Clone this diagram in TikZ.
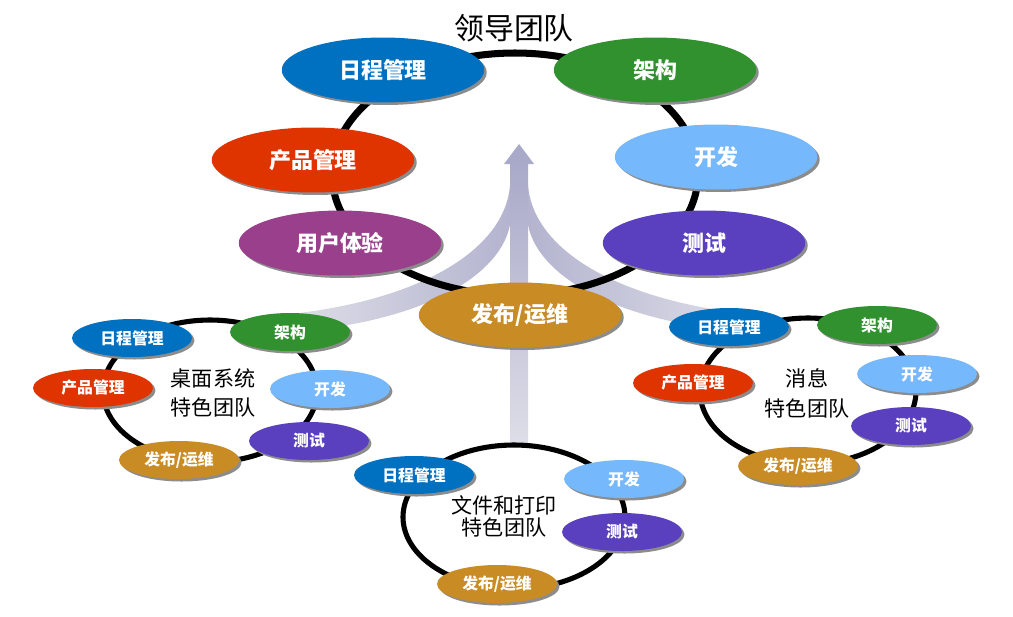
\documentclass[tikz,border=0pt]{standalone}
\usepackage{fontspec}
\setmainfont{Noto Sans CJK SC}
\usetikzlibrary{shapes.geometric,shadows}

\definecolor{cRicheng}{HTML}{0070C0}
\definecolor{cJiagou}{HTML}{31912F}
\definecolor{cChanpin}{HTML}{DF3400}
\definecolor{cKaifa}{HTML}{76B8FC}
\definecolor{cYonghu}{HTML}{993F8C}
\definecolor{cCeshi}{HTML}{5A40BE}
\definecolor{cFabu}{HTML}{C98C24}
\definecolor{arrowDark}{HTML}{A9A9C9}
\definecolor{arrowLight}{HTML}{DEDEE8}

\tikzset{
	bigball/.style={ellipse, draw=none, minimum width=4.05cm, minimum height=1.3cm, inner sep=0pt,
		text=white, font=\fontsize{12.5}{14}\selectfont\bfseries,
		drop shadow={shadow xshift=0.05cm, shadow yshift=-0.05cm, fill=black!45, opacity=1}},
	smallball/.style={bigball, minimum width=2.4cm, minimum height=0.76cm,
		font=\fontsize{9}{10}\selectfont\bfseries},
	teamname/.style={align=center, font=\fontsize{12}{17}\selectfont},
	bigring/.style={line width=4pt},
	smallring/.style={line width=2.9pt},
}

\begin{document}
\begin{tikzpicture}[x=0.02cm, y=-0.02cm]
	\useasboundingbox (0,0) rectangle (1013,616);
	
	% --- MŨI TÊN NỀN ---
	\shade[left color=arrowLight, right color=arrowDark!80!arrowLight] (290,314)
	.. controls (420,300) and (505,250) .. (510,185) -- (511,215)
	.. controls (510,270) and (430,322) .. (290,332) -- cycle;
	\shade[right color=arrowLight, left color=arrowDark!80!arrowLight] (748,314)
	.. controls (618,300) and (533,250) .. (528,185) -- (527,215)
	.. controls (528,270) and (608,322) .. (748,332) -- cycle;
	\shade[top color=arrowDark, bottom color=arrowLight] (510,163) rectangle (528,445);
	\fill[arrowDark] (504,164) -- (519,144) -- (534,164) -- cycle;
	
	% --- 领导团队 ---
	\begin{scope}
		\draw[bigring] (515,174) ellipse [x radius=183, y radius=121];
		\node (title) at (514,28) {\fontsize{17}{20}\selectfont 领导团队};
		
		\node[bigball, fill=cRicheng] (lrc) at (383,70) {日程管理};
		\node[bigball, fill=cJiagou]  (ljg) at (655,70) {架构};
		\node[bigball, fill=cChanpin] (lcp) at (313,160) {产品管理};
		\node[bigball, fill=cKaifa]   (lkf) at (716,157) {开发};
		\node[bigball, fill=cYonghu]  (lyh) at (340,243) {用户体验};
		\node[bigball, fill=cCeshi]   (lcs) at (704,243) {测试};
		\node[bigball, fill=cFabu]    (lfb) at (520,315) {发布/运维};
	\end{scope}
	
	% --- 桌面系统 ---
	\begin{scope}
		\draw[smallring] (210,391) ellipse [x radius=107, y radius=71];
		\node[teamname] (dname) at (213,393) {桌面系统\\特色团队};
		
		\node[smallball, fill=cRicheng] (drc) at (132,338) {日程管理};
		\node[smallball, fill=cJiagou]  (djg) at (290,332) {架构};
		\node[smallball, fill=cChanpin] (dcp) at (93,388) {产品管理};
		\node[smallball, fill=cKaifa]   (dkf) at (330,389) {开发};
		\node[smallball, fill=cCeshi]   (dcs) at (309,441) {测试};
		\node[smallball, fill=cFabu]    (dfb) at (179,460) {发布/运维};
	\end{scope}
	
	% --- 文件和打印 ---
	\begin{scope}
		\draw[smallring] (514,517) ellipse [x radius=111, y radius=72];
		\node[teamname, font=\fontsize{12}{12.5}\selectfont] (pname) at (504,516) {文件和打印\\特色团队};
		
		\node[smallball, fill=cRicheng] (prc) at (414,475) {日程管理};
		\node[smallball, fill=cKaifa]   (pkf) at (624,479) {开发};
		\node[smallball, fill=cCeshi]   (pcs) at (622,532) {测试};
		\node[smallball, fill=cFabu]    (pfb) at (497,584) {发布/运维};
	\end{scope}
	
	% --- 消息 ---
	\begin{scope}
		\draw[smallring] (808,391) ellipse [x radius=108, y radius=73];
		\node[teamname] (mname) at (807,393) {消息\\特色团队};
		
		\node[smallball, fill=cRicheng] (mrc) at (729,327) {日程管理};
		\node[smallball, fill=cJiagou]  (mjg) at (877,325) {架构};
		\node[smallball, fill=cChanpin] (mcp) at (693,383) {产品管理};
		\node[smallball, fill=cKaifa]   (mkf) at (917,374) {开发};
		\node[smallball, fill=cCeshi]   (mcs) at (911,426) {测试};
		\node[smallball, fill=cFabu]    (mfb) at (798,466) {发布/运维};
	\end{scope}
	
\end{tikzpicture}
\end{document}
